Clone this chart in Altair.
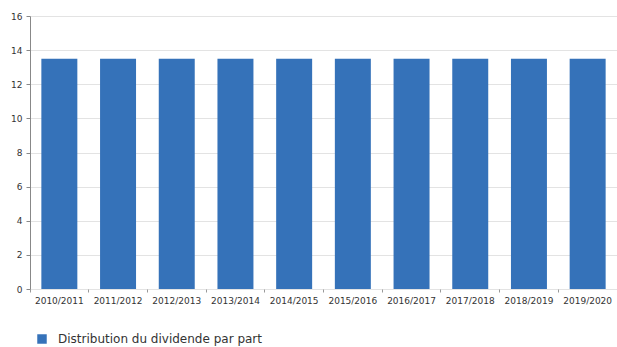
import altair as alt
import pandas as pd

seasons = ["2010/2011", "2011/2012", "2012/2013", "2013/2014", "2014/2015",
           "2015/2016", "2016/2017", "2017/2018", "2018/2019", "2019/2020"]
dividend = [13.5, 13.5, 13.5, 13.5, 13.5, 13.5, 13.5, 13.5, 13.5, 13.5]
series_name = "Distribution du dividende par part"

df = pd.DataFrame({"saison": seasons, "valeur": dividend, "serie": series_name})

chart = alt.Chart(df).mark_bar(width=alt.RelativeBandSize(0.613)).encode(
    x=alt.X("saison:N", sort=seasons, title=None,
            scale=alt.Scale(paddingInner=0, paddingOuter=0),
            axis=alt.Axis(labelAngle=0, bandPosition=0, domain=False,
                          tickSize=3, tickColor="#999", labelPadding=4,
                          labelFontSize=9, labelColor="#333",
                          labelFont="DejaVu Sans")),
    y=alt.Y("valeur:Q", title=None,
            scale=alt.Scale(domain=[0, 16]),
            axis=alt.Axis(values=[0, 2, 4, 6, 8, 10, 12, 14, 16],
                          domainColor="#888", tickColor="#888", tickSize=4,
                          gridColor="#e3e3e3", labelFontSize=9,
                          labelColor="#333", labelFont="DejaVu Sans",
                          labelPadding=4)),
    fill=alt.Fill("serie:N", scale=alt.Scale(range=["#3572b9"]),
                  legend=alt.Legend(title=None, orient="none", legendX=6,
                                    legendY=317, symbolType="square",
                                    symbolSize=90, symbolStrokeWidth=0,
                                    labelOffset=10, labelLimit=0,
                                    labelFontSize=12, labelColor="#333",
                                    labelFont="DejaVu Sans")),
).properties(
    width=587, height=273,
    autosize=alt.AutoSizeParams(type="none"),
    padding={"left": 30, "top": 16, "right": 0, "bottom": 58},
).configure_view(stroke=None)

chart.save("out.html", embed_options={"renderer": "svg", "actions": False})
